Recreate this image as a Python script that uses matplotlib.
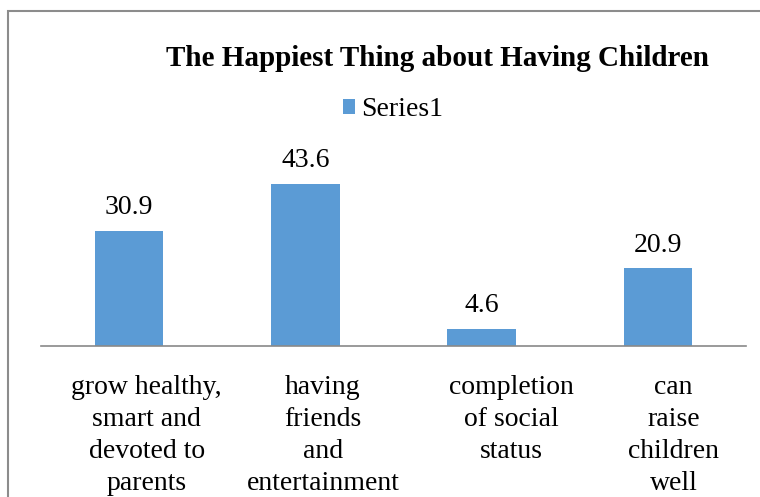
import matplotlib.pyplot as plt
from matplotlib.patches import Rectangle
from matplotlib.transforms import blended_transform_factory

plt.rcParams['font.family'] = ['Liberation Serif', 'DejaVu Serif']

# data
categories = ['grow healthy,\nsmart and\ndevoted to\nparents',
              'having\nfriends\nand\nentertainment',
              'completion\nof social\nstatus',
              'can\nraise\nchildren\nwell']
values = [30.9, 43.6, 4.6, 20.9]
series_name = 'Series1'
title = 'The Happiest Thing about Having Children'

# label shift to the right (Excel wrapped text sits a bit off-centre)
label_shift = [0.10, 0.10, 0.17, 0.09]

fig = plt.figure(figsize=(7.6, 4.97), dpi=100)
fig.patch.set_facecolor('white')

# chart border (cut off at right and bottom like the screenshot)
fig.patches.append(Rectangle((8/760, -0.1), 1.2, 0.978 + 0.1, transform=fig.transFigure,
                             fill=False, edgecolor='#8c8c8c', linewidth=1.5))

ax = fig.add_axes([41/760, 151/497, 705/760, 186/497])
x = range(len(values))
bars = ax.bar(x, values, width=0.39, color='#5B9BD5', label=series_name)
ax.set_xlim(-0.5, len(values) - 0.5)
ax.set_ylim(0, 50)

for s in ['top', 'left', 'right']:
    ax.spines[s].set_visible(False)
ax.spines['bottom'].set_color('#898989')
ax.spines['bottom'].set_linewidth(1.2)
ax.set_yticks([])
ax.set_xticks([])

# value labels
for i, v in enumerate(values):
    ax.annotate(f'{v}', (i, v), xytext=(0, 12), textcoords='offset points',
                ha='center', va='baseline', fontsize=20)

# category labels
trans = blended_transform_factory(ax.transData, ax.transAxes)
for i, lab in enumerate(categories):
    ax.text(i + label_shift[i], -0.155, lab, transform=trans, ha='center', va='top',
            fontsize=20, linespacing=1.38, multialignment='center')

fig.text(438/760, 1 - 58/497, title, ha='center', va='center',
         fontsize=21, fontweight='bold')

fig.legend(handles=[bars], labels=[series_name], loc='center',
           bbox_to_anchor=(393/760, 1 - 110/497), frameon=False, fontsize=20,
           handlelength=0.45, handleheight=0.45, handletextpad=0.2)

fig.savefig('out.png', dpi=100)
